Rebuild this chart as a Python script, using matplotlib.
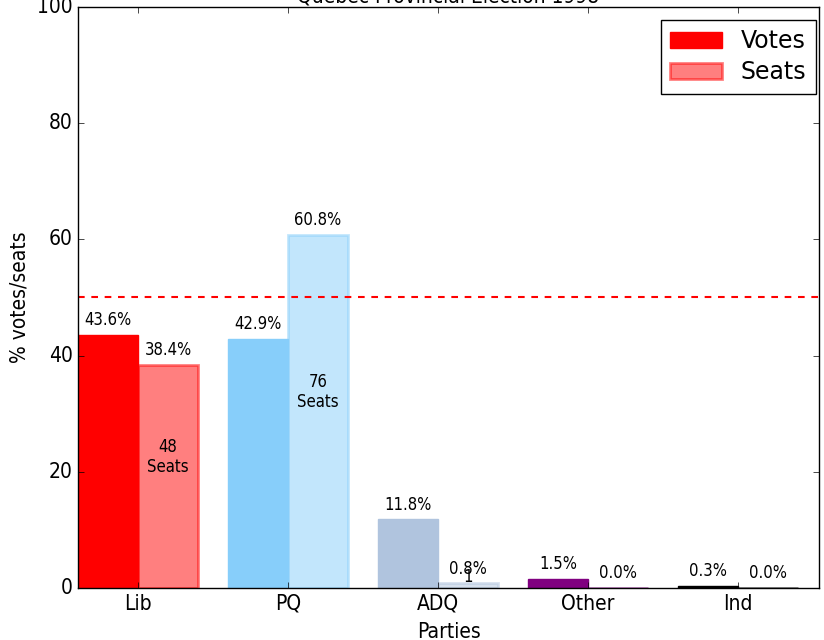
import matplotlib
matplotlib.use('Agg')
import matplotlib.pyplot as plt
import numpy as np

# Quebec 1998 provincial election results
parties = ['Lib', 'PQ', 'ADQ', 'Other', 'Ind']
vote_pct = [43.6, 42.9, 11.8, 1.5, 0.3]
seat_pct = [38.4, 60.8, 0.8, 0.0, 0.0]
seat_labels = ['48\nSeats', '76\nSeats', '1', '', '']
colors = ['red', 'lightskyblue', 'lightsteelblue', 'purple', 'black']

plt.style.use('classic')
plt.rcParams['font.family'] = 'DejaVu Sans'
plt.rcParams['font.stretch'] = 'condensed'

fig = plt.figure(figsize=(8.24, 6.4), dpi=100)
ax = fig.add_axes([0.0947, 0.0813, 0.8992, 0.9078])

x = np.arange(len(parties))
w = 0.4

vbars = ax.bar(x - w / 2, vote_pct, w, color=colors, edgecolor=colors,
               linewidth=1, label='Votes')
sbars = ax.bar(x + w / 2, seat_pct, w, color=colors, edgecolor=colors,
               linewidth=2, alpha=0.5, label='Seats')

for b, v in zip(vbars, vote_pct):
    ax.text(b.get_x() + b.get_width() / 2, v + 1, '%.1f%%' % v,
            ha='center', va='bottom', fontsize=12)
for b, v, s in zip(sbars, seat_pct, seat_labels):
    ax.text(b.get_x() + b.get_width() / 2, v + 1, '%.1f%%' % v,
            ha='center', va='bottom', fontsize=12)
    if s:
        ax.text(b.get_x() + b.get_width() / 2, v / 2, s,
                ha='center', va='bottom', fontsize=12)

# majority line
ax.axhline(50, color='red', linestyle='--', linewidth=1.5, dashes=(4.8, 4.8))

ax.set_xlim(-0.4, 4.54)
ax.set_ylim(0, 100)
ax.set_xticks(x)
ax.set_xticklabels(parties, fontsize=15)
ax.tick_params(axis='y', labelsize=15)
ax.set_xlabel('Parties', fontsize=15, labelpad=6)
ax.set_ylabel('% votes/seats', fontsize=15)
ax.set_title('Quebec Provincial Election 1998', fontsize=15, pad=3)

ax.legend(loc='upper right', handlelength=2.2, borderaxespad=0,
          labelspacing=0.3, bbox_to_anchor=(0.9903, 0.9688),
          bbox_transform=fig.transFigure,
          prop={'family': 'DejaVu Sans', 'stretch': 'normal', 'size': 17})

fig.savefig('out.png', dpi=100)
